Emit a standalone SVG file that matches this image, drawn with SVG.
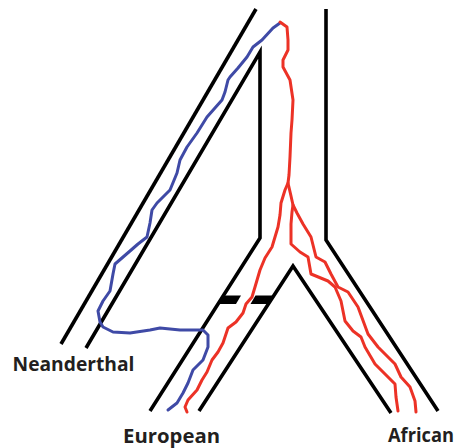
<svg xmlns="http://www.w3.org/2000/svg" width="456" height="448" viewBox="0 0 456 448">
<style>
.br{fill:none;stroke:#000;stroke-width:3.6;stroke-linejoin:miter;stroke-linecap:butt}
.bar{fill:#000}
.red{fill:none;stroke:#ec3226;stroke-width:3;stroke-linejoin:round;stroke-linecap:round}
.blue{fill:none;stroke:#3f4aa6;stroke-width:3;stroke-linejoin:round;stroke-linecap:round}
.lbl{font-family:"Open Sans","Liberation Sans",Arial,sans-serif;font-weight:700;font-size:19px;fill:#231f20}
</style>
<rect width="456" height="448" fill="#fff"/>
<g id="tree">
<path class="br" d="M256,9 L61,344"/>
<path class="br" d="M86,348 L260,52 L260,238 L150,411"/>
<path class="br" d="M326,9 L326,240 L438,411"/>
<path class="br" d="M199,411 L293,266 L391,413"/>
<polygon class="bar" points="223.5,295.5 241,295.5 236,304 218,304"/>
<polygon class="bar" points="255.5,295.5 273.5,295.5 268,304 250.5,304"/>
</g>
<g id="connectors">
<polyline class="blue" points="280,23 273,28 262,40 253,47 247,57 238,68 230,77 228,80 225,92 222,100 207,117 197,133 187,147 180,160 177,173 170,190 157,203 152,210 150,223 147,237 138,244 130,251 115,264 113,274 110,291 103,301 98,311 100,322 103,327 113,332 130,333 150,330 160,328 180,330 195,330 203,330 208,335 208,347 203,360 193,370 188,383 183,393 177,403 168,410"/>
<polyline class="red" points="280,22 287,27 288,40 288,50 283,60 283,67 290,80 293,100 292,120 291,133 290,157 289,175 288,183 285,190 281,203 280,215 278,227 272,247 265,258 260,270 255,287 252,297 246,304 243,313 236,322 228,328 223,343 218,352 212,360 207,372 202,380 197,390 188,400 185,407 187,412"/>
<polyline class="red" points="288,183 291,196 293,205 292,212 291,224 291,244 300,252 308,257 311,274 328,281 335,287 341,301 345,321 353,331 361,337 365,347 375,364 388,377 395,384 396,397 398,411"/>
<polyline class="red" points="293,205 297,213 303,224 311,237 316,257 325,262 331,274 338,287 348,292 358,307 368,334 378,347 388,357 395,364 401,377 410,387 415,401 416,412"/>
</g>
<g id="labels">
<text class="lbl" x="12.5" y="370.5" textLength="122" lengthAdjust="spacingAndGlyphs">Neanderthal</text>
<text class="lbl" x="123" y="442.5" textLength="97" lengthAdjust="spacingAndGlyphs">European</text>
<text class="lbl" x="388" y="442" textLength="66" lengthAdjust="spacingAndGlyphs">African</text>
</g>
</svg>
